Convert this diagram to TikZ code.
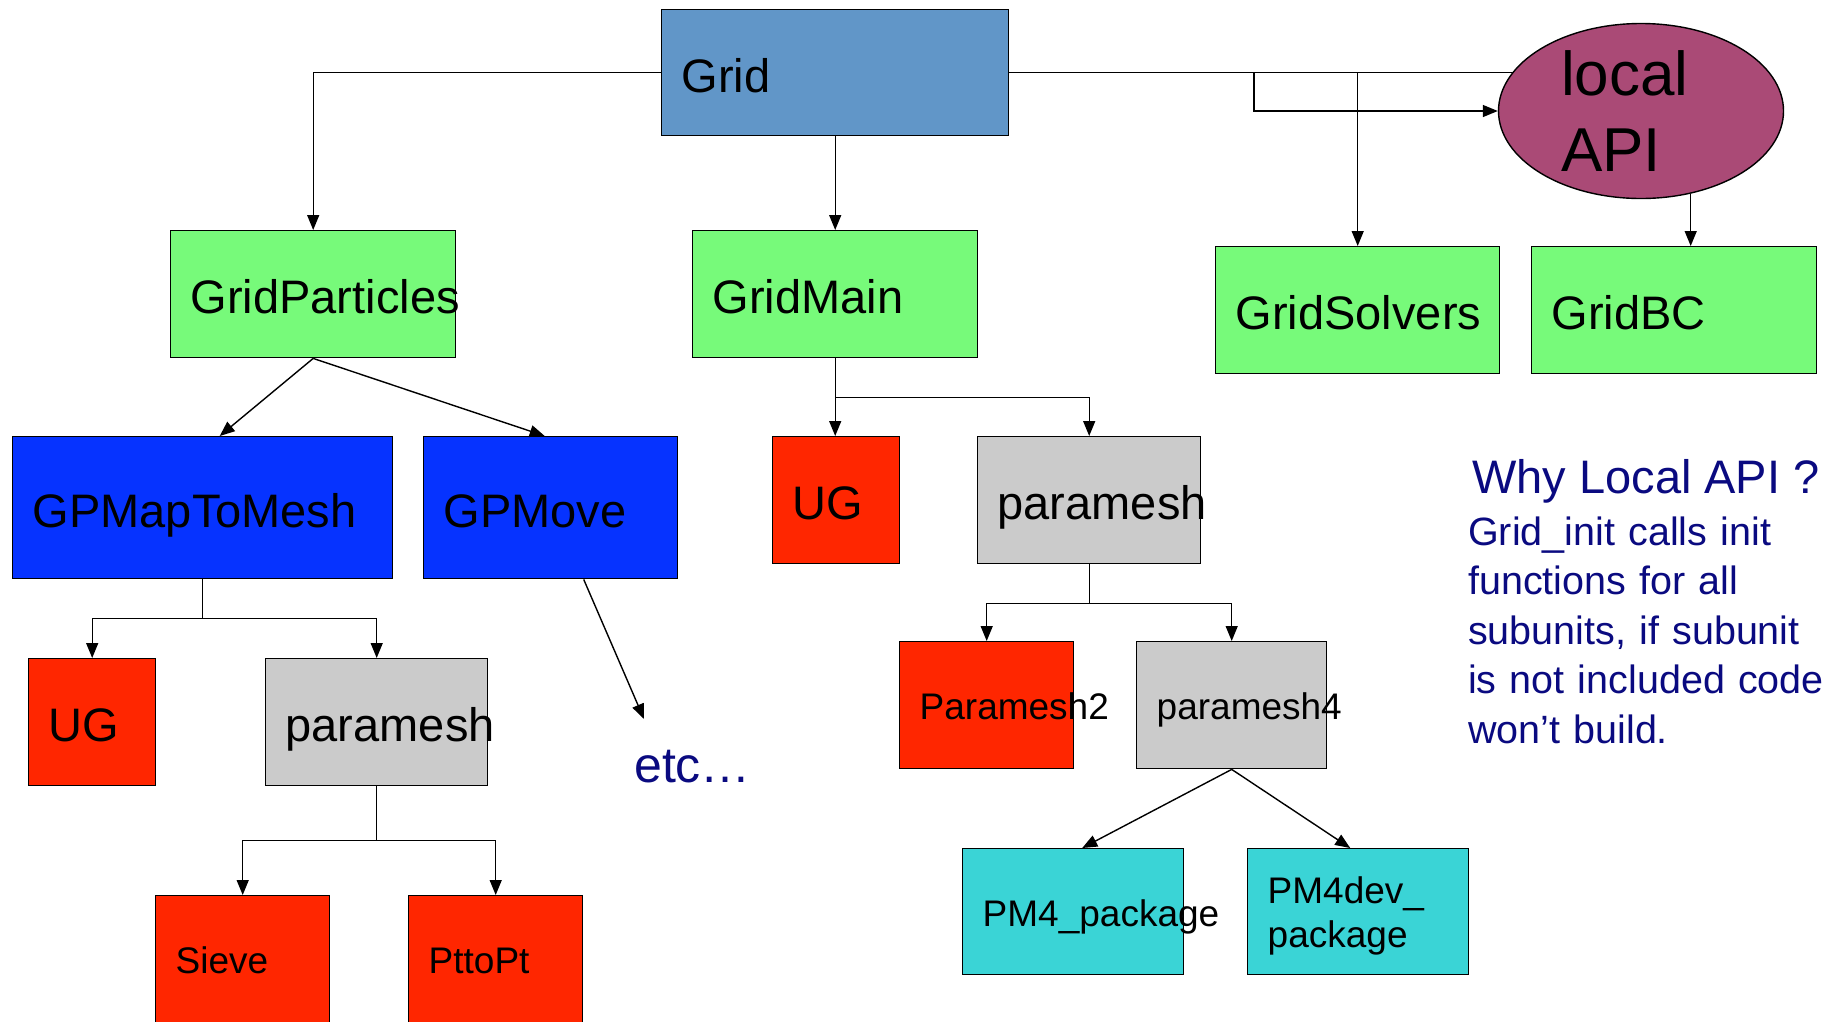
\documentclass[tikz,border=0pt]{standalone}
\usepackage{fontspec}
\setmainfont{Liberation Sans}
\usepackage{tikz}
\usetikzlibrary{shapes.geometric, arrows.meta, positioning, calc}
\usepackage{xcolor}

\definecolor{gridblue}{HTML}{6196C8}
\definecolor{unitgreen}{HTML}{77FA7A}
\definecolor{gpblue}{HTML}{0633FF}
\definecolor{implred}{HTML}{FF2600}
\definecolor{pmgray}{HTML}{CBCBCB}
\definecolor{pkgcyan}{HTML}{3AD4D6}
\definecolor{apiplum}{HTML}{AA4A76}
\definecolor{notenavy}{HTML}{0A0A80}

\hyphenpenalty=10000
\exhyphenpenalty=10000

\begin{document}
\begin{tikzpicture}[x=1pt, y=-1pt,
    blk/.style 2 args={draw, line width=1.4pt, anchor=north west, inner xsep=20pt, inner ysep=0pt, text width=#1, minimum height=#2, align=left, text height=39pt, text depth=0pt, font=\fontsize{47}{56}\selectfont},
    small/.style={font=\fontsize{37}{44}\selectfont, text height=29pt, text depth=0pt},
    arr/.style={-{Triangle[length=15pt,width=12pt]}, line width=1.4pt},
    note/.style={text=notenavy, anchor=base west, inner sep=0pt, align=left}]

\useasboundingbox (0,0) rectangle (1828,1021);

% Grid and its local API
\node[blk={307pt}{126pt}, fill=gridblue] (grid) at (661,9) {Grid};
\node[ellipse, draw, line width=1.4pt, fill=apiplum, minimum width=285pt, minimum height=175pt, inner sep=0pt, text width=160pt, align=left, font=\fontsize{62}{76}\selectfont] (api) at (1641,111) {local\\API};

% subunits
\node[blk={245pt}{127pt}, fill=unitgreen] (gpart) at (170,230) {GridParticles};
\node[blk={245pt}{127pt}, fill=unitgreen] (gmain) at (692,230) {GridMain};
\node[blk={244pt}{127pt}, fill=unitgreen] (gsolv) at (1215,246) {GridSolvers};
\node[blk={245pt}{127pt}, fill=unitgreen] (gbc) at (1531,246) {GridBC};

% below GridParticles
\node[blk={340pt}{142pt}, fill=gpblue] (gpmap) at (12,436) {GPMapToMesh};
\node[blk={214pt}{142pt}, fill=gpblue] (gpmove) at (423,436) {GPMove};
\node[blk={87pt}{127pt}, fill=implred] (ugleft) at (28,658) {UG};
\node[blk={182pt}{127pt}, fill=pmgray] (pmleft) at (265,658) {paramesh};
\node[blk={134pt}{127pt}, fill=implred, small] (sieve) at (155,895) {Sieve};
\node[blk={134pt}{127pt}, fill=implred, small] (pttopt) at (408,895) {PttoPt};
\node[note, font=\fontsize{50}{60}\selectfont] (etc) at (634,782) {etc…};
\coordinate (etcend) at (644,719);

% below GridMain
\node[blk={87pt}{127pt}, fill=implred] (ugmid) at (772,436) {UG};
\node[blk={183pt}{127pt}, fill=pmgray] (pmmid) at (977,436) {paramesh};
\node[blk={134pt}{127pt}, fill=implred, small] (pm2) at (899,641) {Paramesh2};
\node[blk={150pt}{127pt}, fill=pmgray, small] (pm4) at (1136,641) {paramesh4};
\node[blk={181pt}{126pt}, fill=pkgcyan, small] (pm4pkg) at (962,848) {PM4\_package};
\node[blk={181pt}{126pt}, fill=pkgcyan, small, text height=30pt, text depth=47pt] (pm4dev) at (1247,848) {PM4dev\_\\package};

% note on the right
\node[note, font=\fontsize{47}{56}\selectfont] (why) at (1472,493) {Why Local API ?};
\node[note, text width=400pt, font=\fontsize{39.5}{49.5}\selectfont] (whytext) at (1468,545) {Grid\_init calls init\\functions for all\\subunits, if subunit\\is not included code\\won’t build.};

% connectors from Grid
\draw[arr] (grid.west) -| (gpart.north);
\draw[arr] (grid.south) -- (gmain.north);
\draw[line width=1.4pt] (grid.east) -- (grid.east -| api.163);
\coordinate (apiturn) at (1254,72);
\draw[arr] (apiturn) |- (api.west);
\draw[arr] (gsolv.north |- grid.east) -- (gsolv.north);
\draw[arr] (api.301) -- (api.301 |- gbc.north);

% connectors under GridParticles
\draw[arr] (gpart.south) -- ([xshift=17pt]gpmap.north);
\draw[arr] (gpart.south) -- ([xshift=-6pt]gpmove.north);
\draw[arr] (gpmap.south) -- ++(0,39) -| (ugleft.north);
\draw[arr] (gpmap.south) ++(0,39) -| (pmleft.north);
\draw[arr] (pmleft.south) -- ++(0,54) -| (sieve.north);
\draw[arr] (pmleft.south) ++(0,54) -| (pttopt.north);
\draw[arr] ([xshift=33pt]gpmove.south) -- (etcend);

% connectors under GridMain
\draw[arr] (gmain.south) -- (gmain.south |- ugmid.north);
\draw[arr] (gmain.south) ++(0,39) -| (pmmid.north);
\draw[arr] (pmmid.south) -- ++(0,39) -| (pm2.north);
\draw[arr] (pmmid.south) ++(0,39) -| (pm4.north);
\draw[arr] (pm4.south) -- ([xshift=9pt]pm4pkg.north);
\draw[arr] (pm4.south) -- ([xshift=-8pt]pm4dev.north);

\end{tikzpicture}
\end{document}
